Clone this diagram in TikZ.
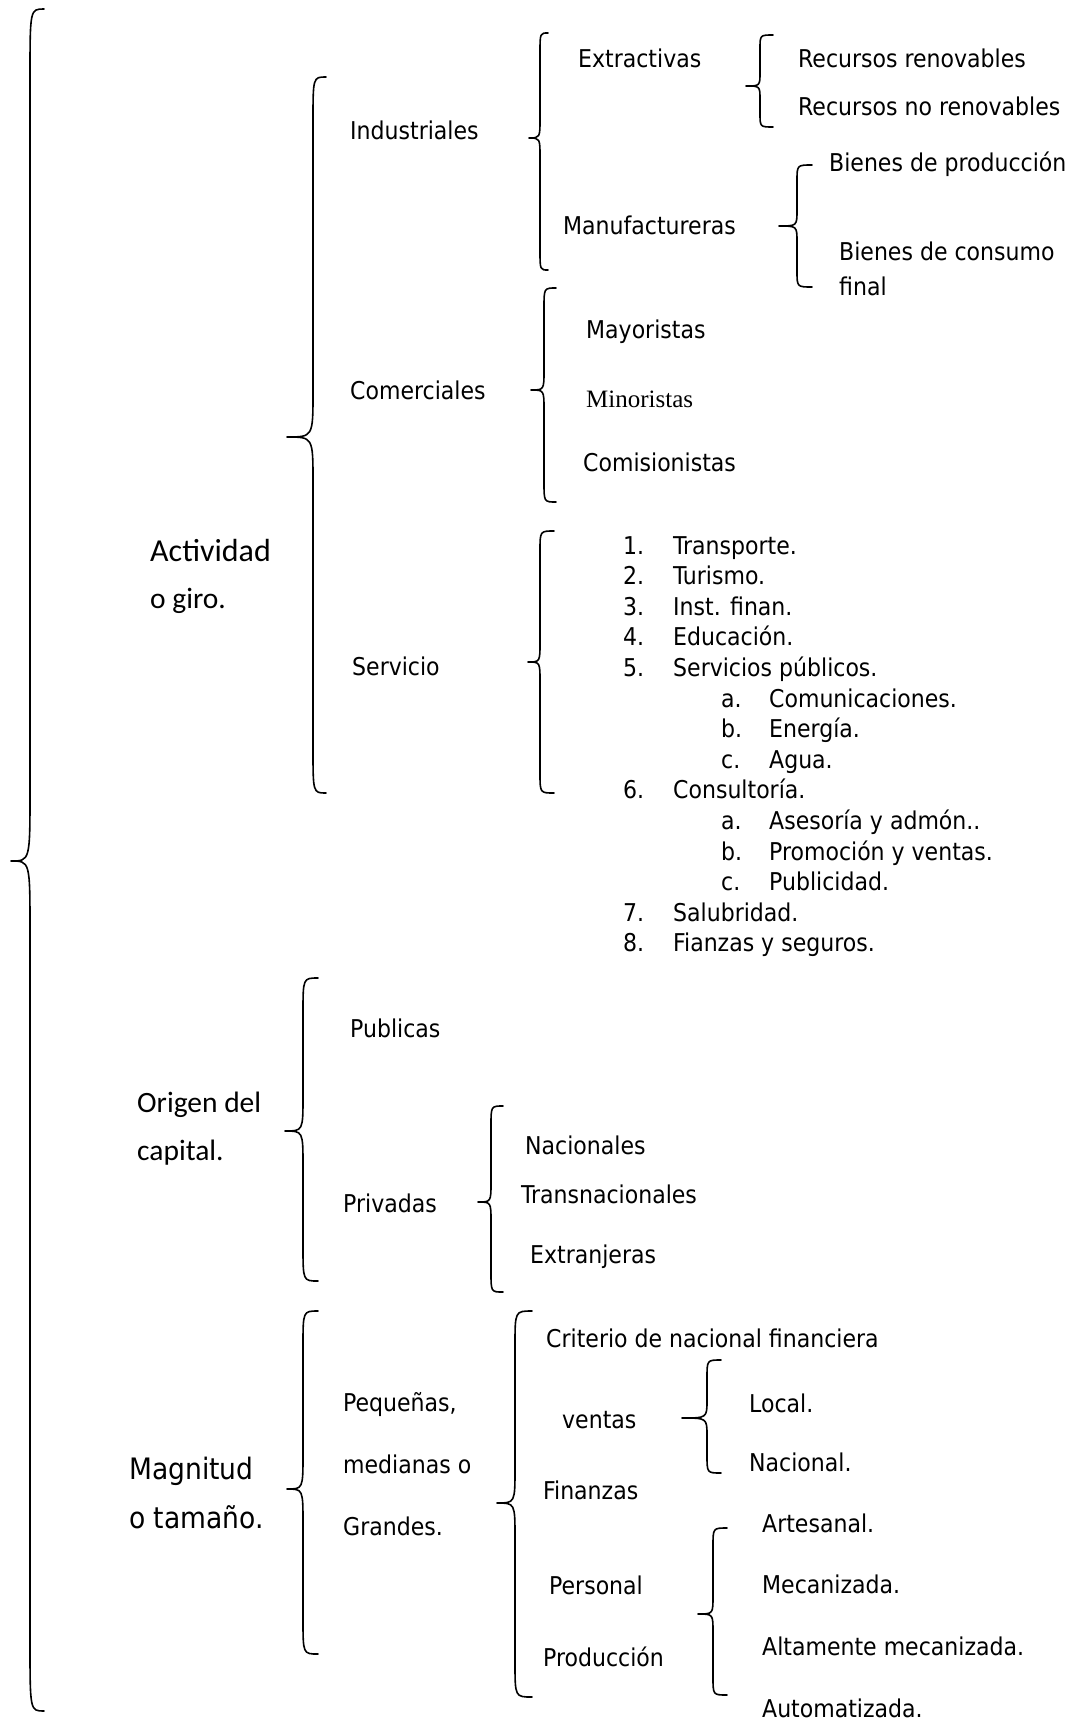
\documentclass[tikz,border=0pt]{standalone}
\usepackage{fontspec}
\newfontfamily\tahoma{DejaVu Sans Condensed}
\newfontfamily\calibri{Carlito}
\newfontfamily\timesf{Liberation Serif}
\usepackage{tikz}

% llave izquierda: x punta, x brazo, x extremos, y arriba, y punta, y abajo, radio
\newcommand{\llave}[7]{%
  \draw[llavestyle] (#3,#4) .. controls (#2,#4) .. (#2,#4+#7) -- (#2,#5-#7)
    .. controls (#2,#5) .. (#1,#5) .. controls (#2,#5) .. (#2,#5+#7)
    -- (#2,#6-#7) .. controls (#2,#6) .. (#3,#6);}

\tikzset{
  llavestyle/.style={line width=1.6pt, line cap=round, line join=round},
  txtbase/.style={anchor=mid west, inner sep=0pt, yshift=-8pt},
  lbl/.style={txtbase, font=\tahoma\fontsize{24.5}{29}\selectfont},
  lbig/.style={txtbase, font=\tahoma\fontsize{29.5}{35}\selectfont},
  cal/.style={txtbase, font=\calibri\fontsize{29.5}{35}\selectfont},
  ser/.style={txtbase, font=\timesf\fontsize{25}{30}\selectfont}
}

\begin{document}
\begin{tikzpicture}[x=1pt, y=-1pt]
\useasboundingbox (0,0) rectangle (1076,1720);

% Llave principal
\llave{11}{30}{44}{9}{861}{1711}{70}

% Actividad o giro
\node[cal, font=\calibri\fontsize{32}{38}\selectfont] (act) at (150,551) {Actividad};
\node[cal] (giro) at (150,598) {o giro.};
\llave{287}{313}{326}{77}{437}{793}{45}

\node[lbl] (ind) at (350,129) {Industriales};
\node[lbl] (com) at (350,389) {Comerciales};
\node[lbl] (ser) at (352,665) {Servicio};

% Industriales
\llave{529}{540}{548}{33}{138}{270}{20}
\node[lbl] (ext) at (578,57) {Extractivas};
\node[lbl] (man) at (563,224) {Manufactureras};

\llave{746}{760}{773}{35}{86}{127}{14}
\node[lbl] (rren) at (798,57) {Recursos renovables};
\node[lbl] (rnoren) at (798,105) {Recursos no renovables};

\llave{779}{797}{812}{165}{226}{287}{16}
\node[lbl] (bprod) at (829,161) {Bienes de producción};
\node[lbl] (bcons) at (839,250) {Bienes de consumo};
\node[lbl] (final) at (839,285) {final};

% Comerciales
\llave{531}{544}{556}{288}{390}{502}{20}
\node[lbl] (may) at (586,328) {Mayoristas};
\node[ser] (min) at (586,397) {Minoristas};
\node[lbl] (comi) at (583,461) {Comisionistas};

% Servicio
\llave{528}{540}{554}{531}{662}{793}{20}
\foreach \lv/\num/\txt [count=\i] in {0/1./Transporte., 0/2./Turismo.,
    0/3./Inst. finan., 0/4./Educación., 0/5./Servicios públicos.,
    1/a./Comunicaciones., 1/b./Energía., 1/c./Agua., 0/6./Consultoría.,
    1/a./Asesoría y admón.., 1/b./Promoción y ventas., 1/c./Publicidad.,
    0/7./Salubridad., 0/8./Fianzas y seguros.}{
  \node[lbl] (num\i) at (623+98*\lv, 513.4+30.6*\i) {\num};
  \node[lbl] (srv\i) at (673+96*\lv, 513.4+30.6*\i) {\txt};
}

% Origen del capital
\node[cal] (orig) at (137,1102) {Origen del};
\node[cal] (capi) at (137,1150) {capital.};
\llave{285}{303}{318}{978}{1131}{1281}{35}

\node[lbl] (pub) at (350,1027) {Publicas};
\node[lbl] (priv) at (343,1202) {Privadas};

\llave{478}{491}{503}{1106}{1202}{1292}{20}
\node[lbl] (nac) at (525,1144) {Nacionales};
\node[lbl] (trans) at (521,1193) {Transnacionales};
\node[lbl] (extr) at (530,1253) {Extranjeras};

% Magnitud o tamano
\node[lbig] (magn) at (129,1469) {Magnitud};
\node[lbig] (tama) at (129,1518) {o tamaño.};
\llave{287}{303}{318}{1311}{1489}{1654}{35}

\node[lbl] (peq) at (343,1401) {Pequeñas,};
\node[lbl] (med) at (343,1463) {medianas o};
\node[lbl] (gra) at (343,1525) {Grandes.};

\llave{497}{515}{532}{1311}{1503}{1697}{35}
\node[lbl] (crit) at (546,1337) {Criterio de nacional financiera};
\node[lbl] (vent) at (562,1418) {ventas};
\node[lbl] (fin) at (543,1489) {Finanzas};
\node[lbl] (pers) at (549,1584) {Personal};
\node[lbl] (prod) at (543,1656) {Producción};

\llave{682}{707}{721}{1360}{1418}{1473}{18}
\node[lbl] (loc) at (749,1402) {Local.};
\node[lbl] (nacl) at (749,1461) {Nacional.};

\llave{698}{713}{727}{1528}{1614}{1695}{18}
\node[lbl] (art) at (762,1522) {Artesanal.};
\node[lbl] (mec) at (762,1583) {Mecanizada.};
\node[lbl] (alt) at (762,1645) {Altamente mecanizada.};
\node[lbl] (aut) at (762,1707) {Automatizada.};

\end{tikzpicture}
\end{document}
